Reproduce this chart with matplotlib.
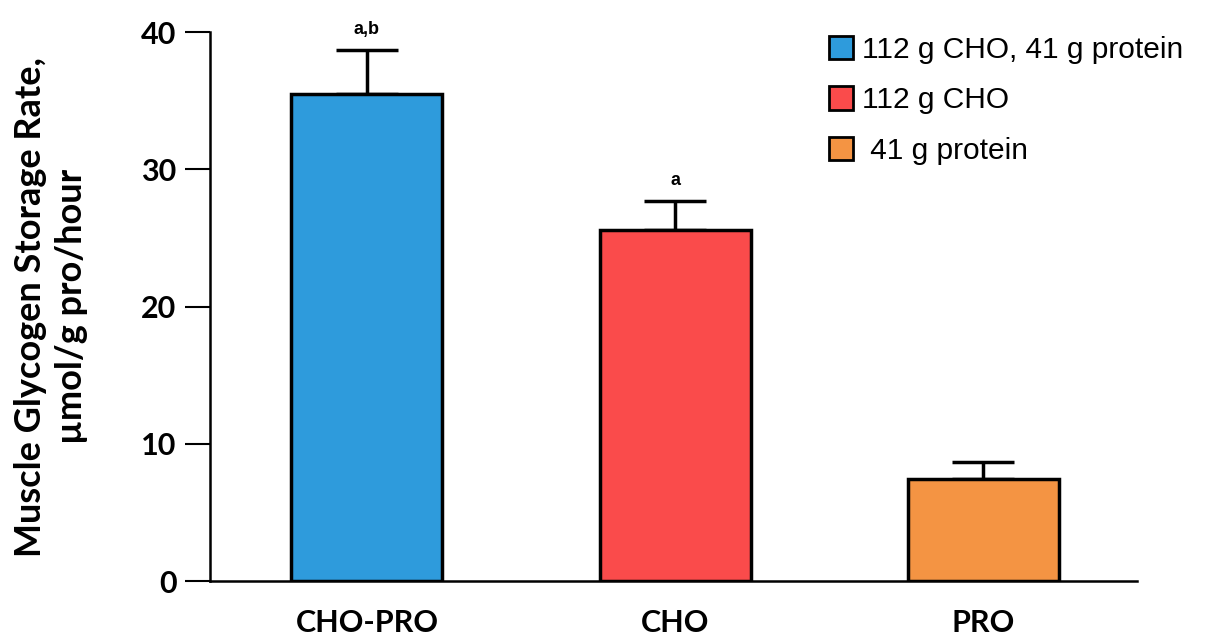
import matplotlib.pyplot as plt
from matplotlib.patches import Patch

# datos
grupos = ["CHO-PRO", "CHO", "PRO"]
valores = [35.5, 25.6, 7.4]
errores = [3.2, 2.1, 1.3]
letras = ["a,b", "a", ""]
leyenda = ["112 g CHO, 41 g protein", "112 g CHO", " 41 g protein"]
colores = ["#2e9bdc", "#fa4b4b", "#f49443"]

fuente = ["Lato", "DejaVu Sans"]

fig = plt.figure(figsize=(12.06, 6.43), dpi=100)
ax = fig.add_axes([0.174, 0.0964, 0.769, 0.8536])

x = list(range(len(grupos)))
ax.bar(x, valores, width=0.49, color=colores, edgecolor="black", linewidth=2.5, zorder=2)
ax.errorbar(x, valores, yerr=[[0] * len(errores), errores], fmt="none",
            ecolor="black", elinewidth=2.5, capsize=22, capthick=2.5, zorder=1)

for xi, v, e, t in zip(x, valores, errores, letras):
    if t:
        ax.text(xi, v + e + 0.9, t, ha="center", va="bottom", fontsize=13,
                fontweight="bold", family=["Liberation Sans"])

ax.set_xlim(-0.51, 2.5)
ax.set_ylim(0, 40)
ax.set_yticks([0, 10, 20, 30, 40])
ax.set_xticks(x)
ax.set_xticklabels(grupos, fontsize=22, fontweight="bold", family=fuente)
for lab in ax.get_yticklabels():
    lab.set_fontsize(22)
    lab.set_fontweight("bold")
    lab.set_family(fuente)

ax.spines["top"].set_visible(False)
ax.spines["right"].set_visible(False)
ax.spines["left"].set_linewidth(1.8)
ax.spines["bottom"].set_linewidth(1.8)
ax.tick_params(axis="y", length=18, width=1.5, pad=6)
ax.tick_params(axis="x", length=0, pad=20)

ax.set_ylabel("Muscle Glycogen Storage Rate,\nµmol/g pro/hour", fontsize=26,
              fontweight="bold", family=fuente, labelpad=38, linespacing=1.3)

handles = [Patch(facecolor=c, edgecolor="black", linewidth=2) for c in colores]
fig.legend(handles, leyenda, loc="upper left",
           bbox_to_anchor=(829 / 1206, 1 - 36 / 643),
           frameon=False, handlelength=0.82, handleheight=0.82, handletextpad=0.3,
           labelspacing=0.75, borderpad=0, borderaxespad=0,
           prop={"family": "Liberation Sans", "size": 21.5})

fig.savefig("out.png", dpi=100)
